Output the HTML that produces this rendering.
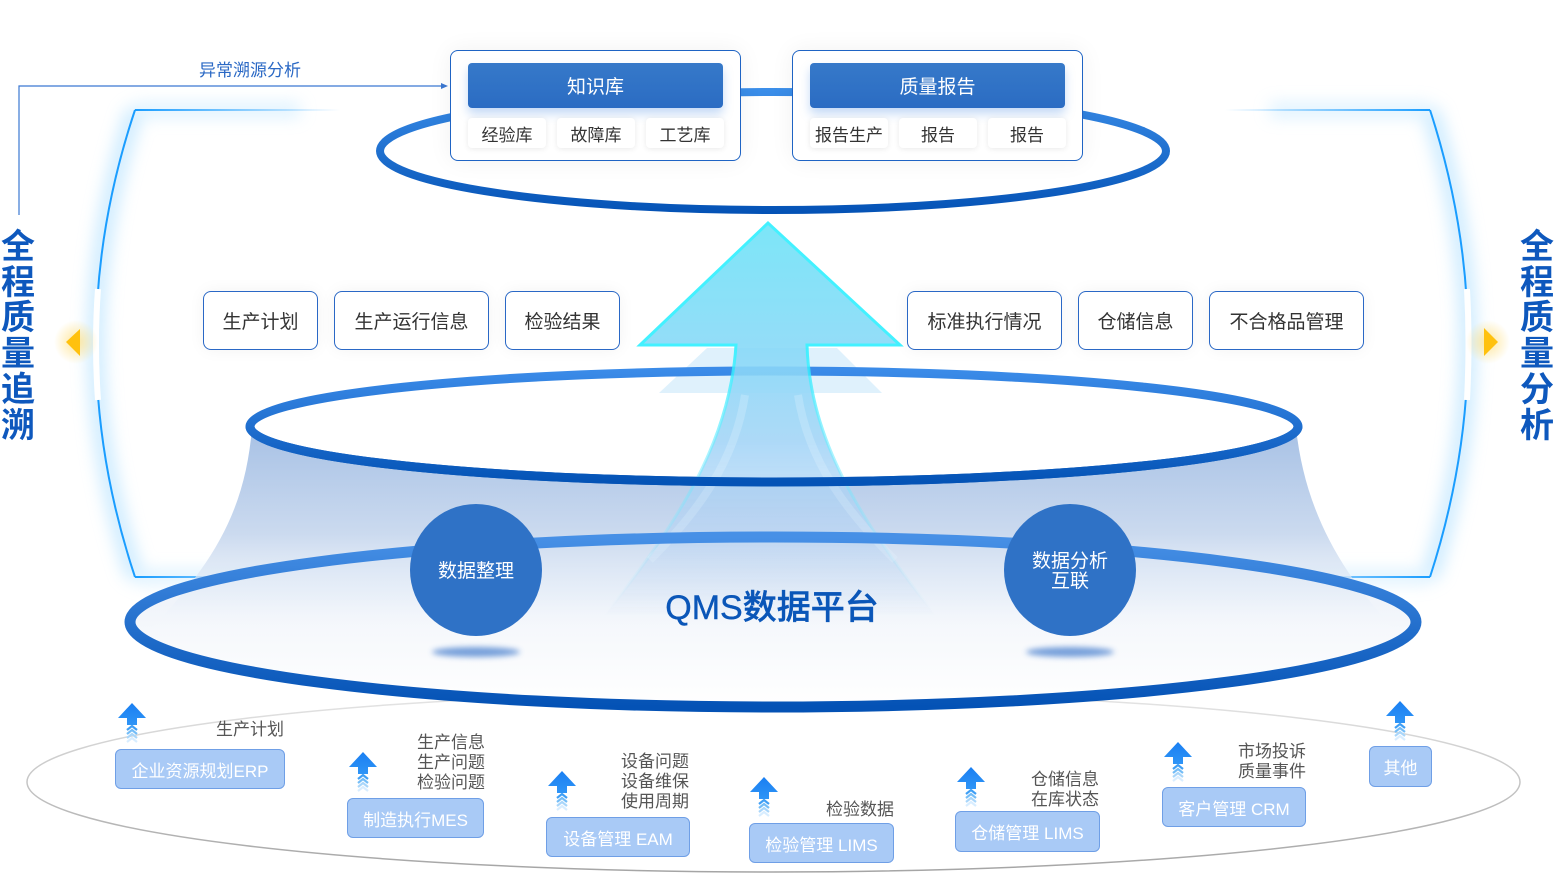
<!DOCTYPE html>
<html><head><meta charset="utf-8">
<style>
*{margin:0;padding:0;box-sizing:border-box}
body{width:1556px;height:875px;overflow:hidden;background:#fff;font-family:"Liberation Sans","Noto Sans CJK SC",sans-serif;position:relative}
.abs{position:absolute}
.c{display:flex;align-items:center;justify-content:center;white-space:nowrap}
.tb{position:absolute;top:50px;width:291px;height:111px;border:1px solid #1f64c4;border-radius:8px;background:#fff;box-shadow:0 0 24px rgba(0,0,0,.06)}
.hd{position:absolute;left:17px;top:12px;width:255px;height:45px;border-radius:4px;background:linear-gradient(#3679c9,#2b6cc3);color:#fff;font-size:19px;box-shadow:0 6px 10px rgba(90,150,230,.35)}
.chip{position:absolute;top:67px;width:78px;height:30px;border-radius:4px;background:#fff;box-shadow:0 1px 6px rgba(0,0,0,.09);font-size:17px;color:#333}
.mb{position:absolute;top:291px;height:59px;border:1px solid #2a68c6;border-radius:8px;background:#fff;font-size:19px;color:#333;box-shadow:0 0 16px rgba(0,0,0,.05)}
.bb{position:absolute;height:40px;border:1px solid #6f9fe6;border-radius:6px;background:#a9caf6;color:#fff;font-size:17px}
.gl{position:absolute;font-size:17px;color:#555;line-height:20px;text-align:right;white-space:nowrap}
.vt{position:absolute;width:36px;font-size:34px;line-height:35.7px;color:#0e58bd;text-align:center;font-weight:bold}
</style></head><body>
<svg class="abs" style="left:0;top:0" width="1556" height="875" viewBox="0 0 1556 875" xmlns="http://www.w3.org/2000/svg">
<defs>
 <filter id="b8" x="-50%" y="-50%" width="200%" height="200%"><feGaussianBlur stdDeviation="8"/></filter>
 <filter id="b3" x="-50%" y="-100%" width="200%" height="300%"><feGaussianBlur stdDeviation="3"/></filter>
 <linearGradient id="gTop" x1="0" y1="88" x2="0" y2="214" gradientUnits="userSpaceOnUse"><stop offset="0" stop-color="#3c8fea"/><stop offset="1" stop-color="#0452b5"/></linearGradient>
 <linearGradient id="gMid" x1="0" y1="371" x2="0" y2="482" gradientUnits="userSpaceOnUse"><stop offset="0" stop-color="#3b8be8"/><stop offset="1" stop-color="#0453b6"/></linearGradient>
 <linearGradient id="gBot" x1="0" y1="537" x2="0" y2="707" gradientUnits="userSpaceOnUse"><stop offset="0" stop-color="#4790e6"/><stop offset="1" stop-color="#0452b5"/></linearGradient>
 <linearGradient id="gFun" x1="0" y1="428" x2="0" y2="640" gradientUnits="userSpaceOnUse"><stop offset="0" stop-color="#a7c1e5"/><stop offset=".5" stop-color="#cbdaef"/><stop offset=".8" stop-color="#e6eef8" stop-opacity=".6"/><stop offset="1" stop-color="#fff" stop-opacity="0"/></linearGradient>
 <linearGradient id="gBotFill" x1="0" y1="537" x2="0" y2="707" gradientUnits="userSpaceOnUse"><stop offset="0" stop-color="#e3ebf7"/><stop offset=".6" stop-color="#f7f9fc"/><stop offset="1" stop-color="#fff"/></linearGradient>
 <linearGradient id="gBase" x1="0" y1="692" x2="0" y2="872" gradientUnits="userSpaceOnUse"><stop offset="0" stop-color="#e6e6e6"/><stop offset="1" stop-color="#a5a5a5"/></linearGradient>
 <linearGradient id="gArr" x1="0" y1="223" x2="0" y2="620" gradientUnits="userSpaceOnUse">
   <stop offset="0" stop-color="#6be3f8"/><stop offset=".3" stop-color="#84d9f8"/><stop offset=".55" stop-color="#a2d4f7"/><stop offset=".8" stop-color="#b4d2f3" stop-opacity=".6"/><stop offset="1" stop-color="#c8dcf3" stop-opacity="0"/></linearGradient>
 <linearGradient id="gArrS" x1="0" y1="223" x2="0" y2="610" gradientUnits="userSpaceOnUse">
   <stop offset="0" stop-color="#2af0ff"/><stop offset=".32" stop-color="#2af0ff"/><stop offset=".6" stop-color="#60eaff" stop-opacity=".6"/><stop offset="1" stop-color="#9ae8ff" stop-opacity="0"/></linearGradient>
 <linearGradient id="hL" x1="135" y1="0" x2="340" y2="0" gradientUnits="userSpaceOnUse"><stop offset="0" stop-color="#1a9dff"/><stop offset="1" stop-color="#1a9dff" stop-opacity="0"/></linearGradient>
 <linearGradient id="hR" x1="1430" y1="0" x2="1225" y2="0" gradientUnits="userSpaceOnUse"><stop offset="0" stop-color="#1a9dff"/><stop offset="1" stop-color="#1a9dff" stop-opacity="0"/></linearGradient>
 <linearGradient id="gUa" x1="0" y1="0" x2="0" y2="1"><stop offset="0" stop-color="#1a7ff2"/><stop offset="1" stop-color="#2e94f6"/></linearGradient>
 <radialGradient id="yg"><stop offset="0" stop-color="#ffd34d" stop-opacity=".55"/><stop offset="1" stop-color="#ffd34d" stop-opacity="0"/></radialGradient>
 <g id="ua">
  <polygon points="0,0 14,15 5,15 5,22 -5,22 -5,15 -14,15" fill="url(#gUa)"/>
  <polyline points="-5,27 0,23 5,27" fill="none" stroke="#3f9ff5" stroke-width="2.2"/>
  <polyline points="-5,31 0,27 5,31" fill="none" stroke="#74bdf7" stroke-width="2.2"/>
  <polyline points="-5,35 0,31 5,35" fill="none" stroke="#a9d6fa" stroke-width="2.2"/>
  <polyline points="-5,39 0,35 5,39" fill="none" stroke="#d8edff" stroke-width="2.2"/>
 </g>
</defs>

<g opacity=".55" filter="url(#b8)">
 <path d="M135,110 Q57,343 135,577" fill="none" stroke="#a6dcff" stroke-width="18"/>
 <path d="M1430,110 Q1506,343 1430,577" fill="none" stroke="#a6dcff" stroke-width="18"/>
 <path d="M135,110 L300,110 M135,577 L290,577" stroke="#bfe6ff" stroke-width="14"/>
 <path d="M1430,110 L1270,110 M1430,577 L1280,577" stroke="#bfe6ff" stroke-width="14"/>
</g>
<path d="M135,110 Q57,343 135,577" fill="none" stroke="#1a9dff" stroke-width="2"/>
<path d="M1430,110 Q1506,343 1430,577" fill="none" stroke="#1a9dff" stroke-width="2"/>
<path d="M135,110 L340,110 M135,577 L320,577" stroke="url(#hL)" stroke-width="2"/>
<path d="M1430,110 L1225,110 M1430,577 L1245,577" stroke="url(#hR)" stroke-width="2"/>
<path d="M98,289 Q94,343 98,400" fill="none" stroke="#fff" stroke-width="6"/>
<path d="M1467,289 Q1470,343 1467,400" fill="none" stroke="#fff" stroke-width="6"/>

<circle cx="76" cy="342" r="22" fill="url(#yg)"/>
<polygon points="80,329 66,342 80,356" fill="#ffc10e"/>
<circle cx="1488" cy="342" r="22" fill="url(#yg)"/>
<polygon points="1484,328 1498,342 1484,356" fill="#ffc10e"/>

<polyline points="19,215 19,86 441,86" fill="none" stroke="#3b78d2" stroke-width="1.2"/>
<polygon points="441,83 448,86 441,89" fill="#3b78d2"/>

<ellipse cx="773.5" cy="782" rx="746.5" ry="90" fill="#fff" stroke="url(#gBase)" stroke-width="1.5"/>

<ellipse cx="773" cy="622" rx="643" ry="85" fill="url(#gBotFill)"/>
<path d="M252,428 C245,510 215,565 140,640 L1405,640 C1340,575 1305,510 1296,428 Z" fill="url(#gFun)"/>
<ellipse cx="774" cy="426.5" rx="524" ry="55.5" fill="#fff"/>

<ellipse cx="773" cy="151" rx="393" ry="59" fill="none" stroke="url(#gTop)" stroke-width="8"/>

<polygon points="707,348 837,348 882,393 659,393" fill="#dcf0fc" opacity=".9"/>

<ellipse cx="774" cy="426.5" rx="524" ry="55.5" fill="none" stroke="url(#gMid)" stroke-width="9"/>

<g opacity=".88">
<path d="M768,223 L900,345 L807,345 C810,440 860,520 935,615 L605,615 C680,520 730,440 736,345 L640,345 Z" fill="url(#gArr)"/>
<path d="M935,615 C860,520 810,440 807,345 L900,345 L768,223 L640,345 L736,345 C730,440 680,520 605,615" fill="none" stroke="url(#gArrS)" stroke-width="3" stroke-linejoin="miter"/>
<path d="M745,395 C735,460 700,510 650,560" fill="none" stroke="#e6f6ff" stroke-width="8" opacity=".25"/>
<path d="M798,395 C808,460 845,510 895,560" fill="none" stroke="#e6f6ff" stroke-width="8" opacity=".25"/>
</g>

<path d="M250,426.5 A524,55.5 0 0 0 1298,426.5" fill="none" stroke="url(#gMid)" stroke-width="9"/>

<ellipse cx="773" cy="622" rx="643" ry="85" fill="none" stroke="url(#gBot)" stroke-width="11"/>

<ellipse cx="476" cy="652" rx="44" ry="5" fill="#5e8fd4" filter="url(#b3)" opacity=".85"/>
<ellipse cx="1070" cy="652" rx="44" ry="5" fill="#5e8fd4" filter="url(#b3)" opacity=".85"/>
<circle cx="476" cy="570" r="66" fill="#2f72c6"/>
<circle cx="1070" cy="570" r="66" fill="#2f72c6"/>
<text x="476" y="577" font-size="19" fill="#fff" text-anchor="middle" font-family="Liberation Sans, Noto Sans CJK SC, sans-serif">数据整理</text>
<text x="1070" y="567" font-size="19" fill="#fff" text-anchor="middle" font-family="Liberation Sans, Noto Sans CJK SC, sans-serif">数据分析</text>
<text x="1070" y="587" font-size="19" fill="#fff" text-anchor="middle" font-family="Liberation Sans, Noto Sans CJK SC, sans-serif">互联</text>

<text x="772" y="619" font-size="34" fill="#0a56b8" text-anchor="middle" font-weight="500" stroke="#0a56b8" stroke-width=".4" font-family="Liberation Sans, Noto Sans CJK SC, sans-serif">QMS数据平台</text>

<use href="#ua" transform="translate(132,703)"/>
<use href="#ua" transform="translate(363,752)"/>
<use href="#ua" transform="translate(562,771)"/>
<use href="#ua" transform="translate(764,777)"/>
<use href="#ua" transform="translate(971,767)"/>
<use href="#ua" transform="translate(1178,742)"/>
<use href="#ua" transform="translate(1400,701)"/>
</svg>

<div class="vt" style="left:0;top:230px">全<br>程<br>质<br>量<br>追<br>溯</div>
<div class="vt" style="left:1519px;top:230px">全<br>程<br>质<br>量<br>分<br>析</div>

<div class="abs" style="left:199px;top:56px;font-size:17px;color:#2b69c5;white-space:nowrap">异常溯源分析</div>

<div class="tb" style="left:450px">
 <div class="hd c">知识库</div>
 <div class="chip c" style="left:17px">经验库</div>
 <div class="chip c" style="left:106px">故障库</div>
 <div class="chip c" style="left:195px">工艺库</div>
</div>
<div class="tb" style="left:792px">
 <div class="hd c">质量报告</div>
 <div class="chip c" style="left:17px">报告生产</div>
 <div class="chip c" style="left:106px">报告</div>
 <div class="chip c" style="left:195px">报告</div>
</div>

<div class="mb c" style="left:203px;width:115px">生产计划</div>
<div class="mb c" style="left:334px;width:155px">生产运行信息</div>
<div class="mb c" style="left:505px;width:115px">检验结果</div>
<div class="mb c" style="left:907px;width:155px">标准执行情况</div>
<div class="mb c" style="left:1078px;width:115px">仓储信息</div>
<div class="mb c" style="left:1209px;width:155px">不合格品管理</div>

<div class="bb c" style="left:115px;top:749px;width:170px">企业资源规划ERP</div>
<div class="bb c" style="left:347px;top:798px;width:137px">制造执行MES</div>
<div class="bb c" style="left:546px;top:817px;width:144px">设备管理 EAM</div>
<div class="bb c" style="left:749px;top:823px;width:145px">检验管理 LIMS</div>
<div class="bb c" style="left:955px;top:811px;width:145px;height:41px">仓储管理 LIMS</div>
<div class="bb c" style="left:1162px;top:787px;width:144px">客户管理 CRM</div>
<div class="bb c" style="left:1369px;top:746px;width:63px;height:41px">其他</div>

<div class="gl" style="right:1272px;top:720px">生产计划</div>
<div class="gl" style="right:1071px;top:733px">生产信息<br>生产问题<br>检验问题</div>
<div class="gl" style="right:867px;top:752px">设备问题<br>设备维保<br>使用周期</div>
<div class="gl" style="right:662px;top:800px">检验数据</div>
<div class="gl" style="right:457px;top:770px">仓储信息<br>在库状态</div>
<div class="gl" style="right:250px;top:742px">市场投诉<br>质量事件</div>
</body></html>
